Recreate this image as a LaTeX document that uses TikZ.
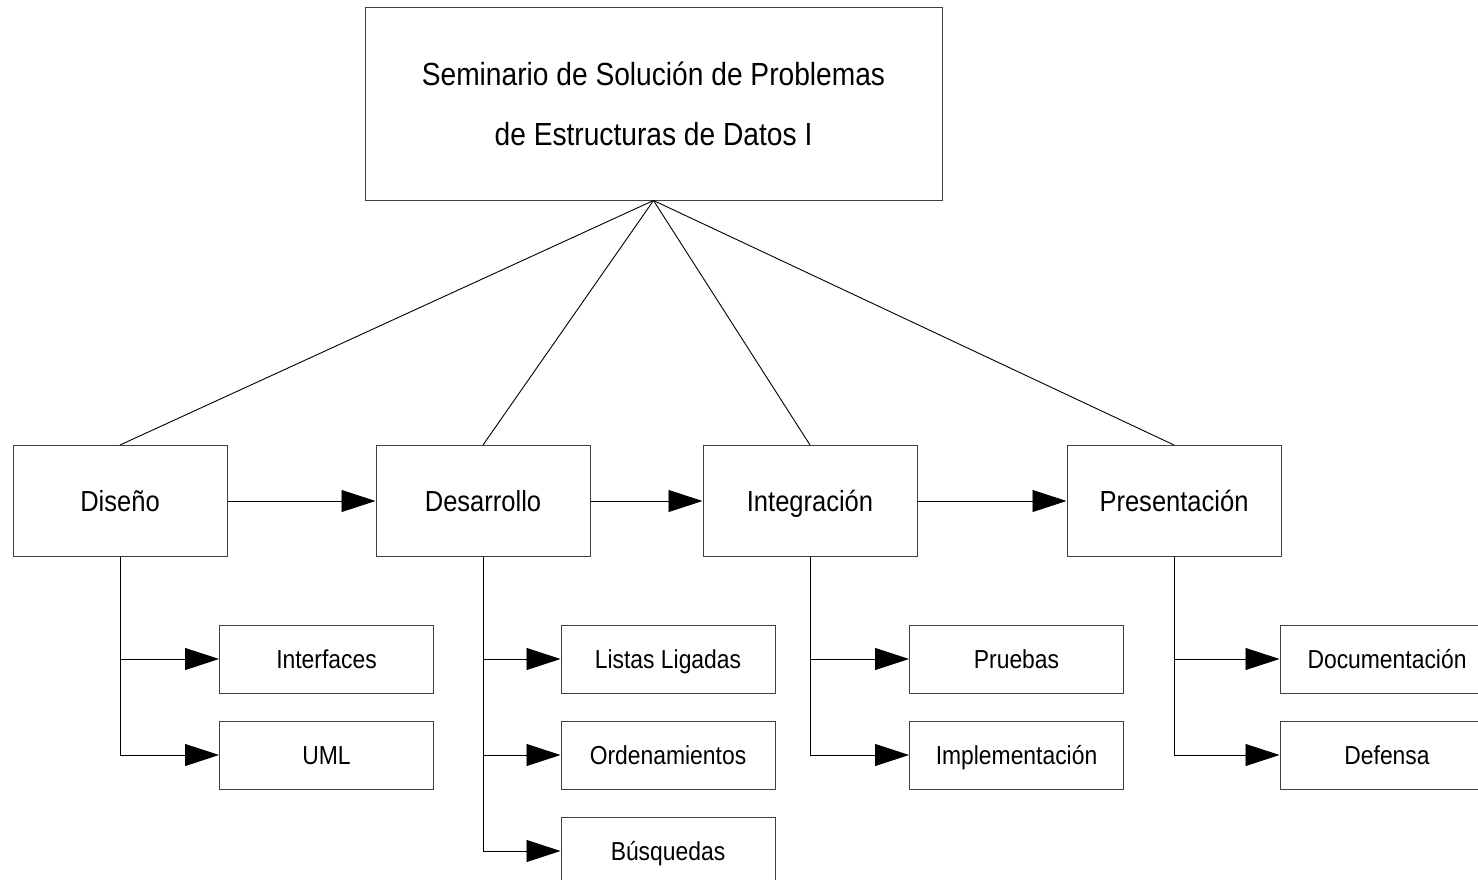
\documentclass[tikz,border=0pt]{standalone}
\usepackage{fontspec}
\setmainfont{Liberation Sans}[FakeStretch=0.88]
\usepackage{tikz}
\usetikzlibrary{arrows.meta}
\usetikzlibrary{positioning}
\tikzset{>={Triangle[length=34pt,width=22pt]}}
\tikzset{
    box/.style = {draw=black!75, line width=1pt, inner sep=0pt, text depth=0pt},
    titlebox/.style = {draw=black!75, line width=1pt, minimum width=577pt, minimum height=192pt, align=center, font=\fontsize{32}{60}\selectfont},
    phase/.style = {box, minimum width=214pt, minimum height=111pt, text height=20.8pt, font=\fontsize{29}{34}\selectfont},
    task/.style = {box, minimum width=214pt, minimum height=68pt, text height=18.6pt, font=\fontsize{26}{31}\selectfont},
    link/.style = {line width=0.9pt},
    flow/.style = {link, ->},
}
\begin{document}
\begin{tikzpicture}[x=1pt,y=-1pt]
    \useasboundingbox (0,0) rectangle (1478,880);
    \clip (0,0) rectangle (1478,880);
    \node[titlebox] (sem) at (653.5,104) {Seminario de Solución de Problemas\\de Estructuras de Datos I};
    % etapas
    \node[phase] (dis) at (120,501) {Diseño};
    \node[phase] (des) at (483,501) {Desarrollo};
    \node[phase] (int) at (810,501) {Integración};
    \node[phase] (pre) at (1174,501) {Presentación};
    % tareas
    \node[task] (ifz) at (326.5,659) {Interfaces};
    \node[task] (uml) [on grid, below=96pt of ifz] {UML};
    \node[task] (lst) at (668,659) {Listas Ligadas};
    \node[task] (ord) [on grid, below=96pt of lst] {Ordenamientos};
    \node[task] (bus) [on grid, below=96pt of ord] {Búsquedas};
    \node[task] (pru) at (1016.5,659) {Pruebas};
    \node[task] (imp) [on grid, below=96pt of pru] {Implementación};
    \node[task] (doc) at (1387,659) {Documentación};
    \node[task] (def) [on grid, below=96pt of doc] {Defensa};
    % lineas
    \foreach \p in {dis,des,int,pre}
        \draw[link] (sem.south) -- (\p.north);
    \draw[flow] (dis) -- (des);
    \draw[flow] (des) -- (int);
    \draw[flow] (int) -- (pre);
    \draw[flow] (dis.south) |- (ifz);
    \draw[flow] (dis.south) |- (uml);
    \draw[flow] (des.south) |- (lst);
    \draw[flow] (des.south) |- (ord);
    \draw[flow] (des.south) |- (bus);
    \draw[flow] (int.south) |- (pru);
    \draw[flow] (int.south) |- (imp);
    \draw[flow] (pre.south) |- (doc);
    \draw[flow] (pre.south) |- (def);
\end{tikzpicture}
\end{document}
